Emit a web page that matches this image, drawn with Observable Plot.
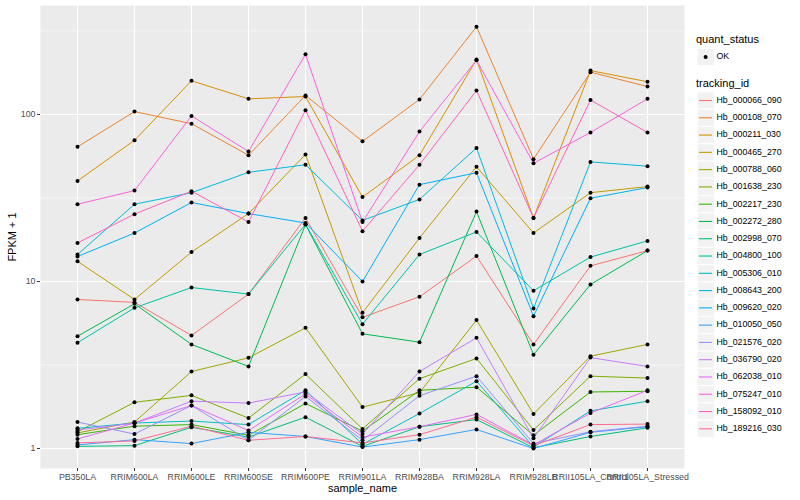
<!DOCTYPE html>
<html><head><meta charset="utf-8">
<script src="https://cdn.jsdelivr.net/npm/d3@7"></script>
<script src="https://cdn.jsdelivr.net/npm/@observablehq/plot@0.6"></script>
<style>
body{margin:0;background:#fff;font-family:"Liberation Sans",Arial,sans-serif;}
#wrap{position:relative;width:800px;height:500px;overflow:hidden;}
#wrap svg{position:absolute;top:0;}
</style></head><body><div id="wrap"></div>
<script>
const samples = ["PB350LA","RRIM600LA","RRIM600LE","RRIM600SE","RRIM600PE","RRIM901LA","RRIM928BA","RRIM928LA","RRIM928LB","RRII105LA_Control","RRII105LA_Stressed"];
const trackingIds = ["Hb_000066_090","Hb_000108_070","Hb_000211_030","Hb_000465_270","Hb_000788_060","Hb_001638_230","Hb_002217_230","Hb_002272_280","Hb_002998_070","Hb_004800_100","Hb_005306_010","Hb_008643_200","Hb_009620_020","Hb_010050_050","Hb_021576_020","Hb_036790_020","Hb_062038_010","Hb_075247_010","Hb_158092_010","Hb_189216_030"];
const colors = ["#F8766D","#EA8331","#D89000","#C09B00","#A3A500","#7CAE00","#39B600","#00BB4E","#00BF7D","#00C1A3","#00BFC4","#00BAE0","#00B0F6","#35A2FF","#9590FF","#C77CFF","#E76BF3","#FA62DB","#FF62BC","#FF6C91"];
// FPKM + 1 per sample (same order as samples)
const Hb_000066_090 = [7.8, 7.5, 4.75, 8.4, 24, 6.1, 8.1, 14.2, 4.2, 12.4, 15.3];
const Hb_000108_070 = [64, 104, 88, 57, 130, 69, 123, 335, 54, 179, 147];
const Hb_000211_030 = [40, 70, 159, 124, 128, 32, 57, 213, 24, 183, 157];
const Hb_000465_270 = [13.2, 7.8, 15, 25.5, 57.6, 6.5, 18.2, 48.6, 19.5, 34, 37];
const Hb_000788_060 = [1.24, 1.44, 2.89, 3.49, 5.28, 1.77, 2.16, 5.87, 1.61, 3.57, 4.2];
const Hb_001638_230 = [1.26, 1.89, 2.08, 1.52, 2.79, 1.31, 2.62, 3.46, 1.29, 2.71, 2.64];
const Hb_002217_230 = [1.21, 1.36, 1.39, 1.2, 1.86, 1.27, 2.23, 2.33, 1.2, 2.18, 2.2];
const Hb_002272_280 = [4.7, 7.35, 4.2, 3.1, 21.9, 4.86, 4.33, 26.2, 3.64, 9.6, 15.3];
const Hb_002998_070 = [1.03, 1.04, 1.34, 1.17, 1.54, 1.03, 1.35, 1.49, 1.01, 1.18, 1.33];
const Hb_004800_100 = [4.3, 6.95, 9.2, 8.4, 22, 5.55, 14.5, 19.8, 8.8, 14, 17.5];
const Hb_005306_010 = [1.32, 1.42, 1.46, 1.39, 2.23, 1.06, 1.62, 2.53, 1.02, 1.68, 1.92];
const Hb_008643_200 = [14.5, 29, 34, 45, 50, 23.2, 31, 63, 6.9, 52, 49];
const Hb_009620_020 = [14.1, 19.5, 29.7, 25.5, 22.4, 10.0, 38, 44.8, 6.2, 31.5, 36.5];
const Hb_010050_050 = [1.05, 1.13, 1.07, 1.25, 1.18, 1.02, 1.13, 1.30, 1.0, 1.25, 1.35];
const Hb_021576_020 = [1.44, 1.22, 1.81, 1.12, 2.05, 1.12, 2.07, 2.71, 1.07, 1.26, 1.36];
const Hb_036790_020 = [1.29, 1.42, 1.92, 1.87, 2.18, 1.22, 2.89, 4.6, 1.15, 3.5, 3.1];
const Hb_062038_010 = [1.14, 1.42, 1.81, 1.28, 2.12, 1.17, 1.35, 1.6, 1.05, 1.63, 2.23];
const Hb_075247_010 = [29, 35, 98, 60, 229, 22.7, 79, 211, 51, 78, 124];
const Hb_158092_010 = [17, 25.3, 34.7, 22.7, 106, 20, 50, 139, 24, 122, 78];
const Hb_189216_030 = [1.08, 1.11, 1.36, 1.12, 1.18, 1.08, 1.21, 1.54, 1.04, 1.39, 1.4];
const seriesValues = [Hb_000066_090,Hb_000108_070,Hb_000211_030,Hb_000465_270,Hb_000788_060,Hb_001638_230,Hb_002217_230,Hb_002272_280,Hb_002998_070,Hb_004800_100,Hb_005306_010,Hb_008643_200,Hb_009620_020,Hb_010050_050,Hb_021576_020,Hb_036790_020,Hb_062038_010,Hb_075247_010,Hb_158092_010,Hb_189216_030];
const yTicks = [1, 10, 100];
const yMinor = [3.1623, 31.623, 316.23];
const quantStatus = ["OK"];

const rows = trackingIds.flatMap((id, i) => samples.map((s, j) => ({id, sample: s, value: seriesValues[i][j], status: "OK"})));

const font = "'Liberation Sans', Arial, sans-serif";
const chart = Plot.plot({
  width: 688, height: 500,
  marginTop: 5, marginBottom: 32, marginLeft: 40, marginRight: 4,
  style: {fontFamily: font, fontSize: "8.8px", background: "transparent", overflow: "visible"},
  x: {type: "point", domain: samples, padding: 0.6},
  y: {type: "log", domain: [0.759, 449]},
  color: {domain: trackingIds, range: colors},
  marks: [
    Plot.frame({fill: "#EBEBEB", stroke: null}),
    Plot.ruleY(yMinor, {stroke: "white", strokeWidth: 0.55}),
    Plot.ruleY(yTicks, {stroke: "white", strokeWidth: 1.1}),
    Plot.ruleX(samples, {stroke: "white", strokeWidth: 1.1}),
    Plot.line(rows, {x: "sample", y: "value", z: "id", stroke: "id", strokeWidth: 1}),
    Plot.dot(rows, {x: "sample", y: "value", r: 2, fill: "black", stroke: null}),
    Plot.axisY({ticks: yTicks, tickFormat: d => String(d), tickSize: 3, tickPadding: 2, fill: "#4D4D4D", stroke: "#333333", label: null, fontSize: 8.8}),
    Plot.axisX({tickSize: 3, tickPadding: 2, fill: "#4D4D4D", stroke: "#333333", label: null, fontSize: 8.8}),
    Plot.text(["FPKM + 1"], {frameAnchor: "left", dx: -28, rotate: -90, textAnchor: "middle", lineAnchor: "middle", fontSize: 11, fill: "black"}),
    Plot.text(["sample_name"], {frameAnchor: "bottom", dy: 20, textAnchor: "middle", lineAnchor: "middle", fontSize: 11, fill: "black"})
  ]
});
chart.style.left = "0px";
document.getElementById("wrap").appendChild(chart);

// Legend (ggplot style), right side
const lg = d3.select("#wrap").append("svg")
  .attr("width", 112).attr("height", 500)
  .style("left", "688px")
  .style("font-family", font);
lg.append("text").attr("x", 8).attr("y", 40.5).attr("dominant-baseline", "middle")
  .attr("font-size", 11).text("quant_status");
quantStatus.forEach((q, i) => {
  const cy = 57 + i * 17.3;
  lg.append("rect").attr("x", 9).attr("y", cy - 8.6).attr("width", 17.3).attr("height", 17.3)
    .attr("fill", "#F2F2F2").attr("stroke", "white").attr("stroke-width", 1);
  lg.append("circle").attr("cx", 17.6).attr("cy", cy).attr("r", 2).attr("fill", "black");
  lg.append("text").attr("x", 28.5).attr("y", cy).attr("dominant-baseline", "middle")
    .attr("font-size", 8.8).text(q);
});
lg.append("text").attr("x", 8).attr("y", 84.5).attr("dominant-baseline", "middle")
  .attr("font-size", 11).text("tracking_id");
trackingIds.forEach((id, i) => {
  const cy = 100.5 + i * 17.28;
  lg.append("rect").attr("x", 9).attr("y", cy - 8.64).attr("width", 17.3).attr("height", 17.28)
    .attr("fill", "#F2F2F2").attr("stroke", "white").attr("stroke-width", 1);
  lg.append("line").attr("x1", 11).attr("x2", 24).attr("y1", cy).attr("y2", cy)
    .attr("stroke", colors[i]).attr("stroke-width", 1.1);
  lg.append("text").attr("x", 28.5).attr("y", cy).attr("dominant-baseline", "middle")
    .attr("font-size", 8.8).text(id);
});
</script></body></html>
